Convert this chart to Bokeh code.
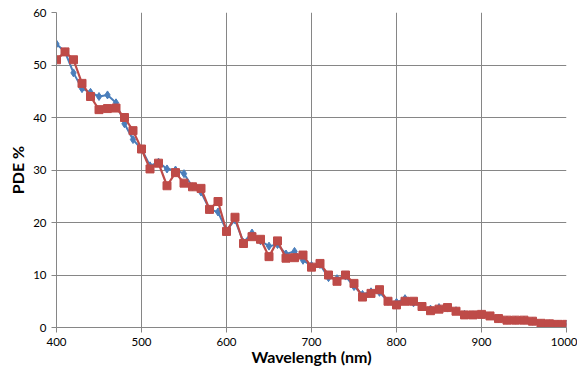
from bokeh.plotting import figure
from bokeh.embed import file_html
from bokeh.resources import INLINE
from bokeh.models import Range1d, FixedTicker

wavelength = list(range(400, 1001, 10))

pde_blue = [54, 52.5, 48.5, 45.5, 44.8, 44, 44.3, 42.8, 38.8, 35.8,
            34, 30.8, 31.5, 30.2, 30, 29.3, 26.8, 25.8, 22.5, 22,
            18.5, 20.5, 16.2, 18, 16.5, 15.5, 15.8, 14, 14.5, 12.8,
            11.8, 12, 9.5, 9.3, 9.8, 7.8, 6.3, 6.8, 6.7, 5,
            4.8, 5.5, 4.7, 4, 3.5, 3.8, 3.7, 3.2, 2.5, 2.4,
            2.4, 2.2, 1.7, 1.4, 1.4, 1.4, 1.2, 0.8, 0.7, 0.6, 0.6]

pde_red = [51, 52.5, 51, 46.5, 44, 41.5, 41.7, 41.8, 40, 37.5,
           34, 30.2, 31.3, 27, 29.5, 27.5, 26.8, 26.5, 22.5, 24,
           18.3, 21, 16, 17.3, 16.8, 13.5, 16.5, 13.2, 13.3, 13.8,
           11.5, 12.2, 10, 8.8, 10, 8.4, 5.8, 6.5, 7.2, 5,
           4.3, 5, 5, 4, 3.2, 3.5, 3.8, 3.1, 2.4, 2.4,
           2.5, 2.2, 1.7, 1.4, 1.4, 1.4, 1.2, 0.8, 0.7, 0.6, 0.6]

x_ticks = [400, 500, 600, 700, 800, 900, 1000]
y_ticks = [0, 10, 20, 30, 40, 50, 60]

BLUE = "#4A7EBB"
RED = "#BE4B48"
GRID = "#868686"
FONT = "Lato"

p = figure(width=577, height=374, output_backend="svg", toolbar_location=None,
           x_range=Range1d(400, 1000), y_range=Range1d(0, 60),
           frame_width=510, frame_height=315,
           min_border_left=56, min_border_right=11, min_border_top=12, min_border_bottom=47)
p.outline_line_color = None
p.background_fill_color = "white"
p.border_fill_color = "white"

p.line(wavelength, pde_blue, line_color=BLUE, line_width=2)
p.scatter(wavelength, pde_blue, marker="diamond", size=8, fill_color=BLUE, line_color=BLUE)
p.line(wavelength, pde_red, line_color=RED, line_width=2.2)
p.scatter(wavelength, pde_red, marker="square", size=8, fill_color=RED, line_color=RED)

for ax in (p.xaxis[0], p.yaxis[0]):
    ax.axis_line_color = GRID
    ax.major_tick_line_color = GRID
    ax.major_tick_out = 5
    ax.major_tick_in = 0
    ax.minor_tick_line_color = None
    ax.major_label_text_font = FONT
    ax.major_label_text_font_size = "11.5px"
    ax.major_label_text_color = "#000000"
    ax.axis_label_text_font = FONT
    ax.axis_label_text_font_style = "bold"
    ax.axis_label_text_font_size = "16px"
    ax.axis_label_text_color = "#000000"

p.xaxis.ticker = FixedTicker(ticks=x_ticks)
p.yaxis.ticker = FixedTicker(ticks=y_ticks)
p.xaxis.axis_label = "Wavelength (nm)"
p.yaxis.axis_label = "PDE %"
p.xaxis.major_label_standoff = 5
p.yaxis.major_label_standoff = 5
p.xaxis.axis_label_standoff = -2
p.yaxis.axis_label_standoff = 3

p.xgrid.grid_line_color = GRID
p.ygrid.grid_line_color = GRID
p.xgrid.ticker = FixedTicker(ticks=x_ticks)
p.ygrid.ticker = FixedTicker(ticks=y_ticks)

open("out.html", "w").write(file_html(p, INLINE))
